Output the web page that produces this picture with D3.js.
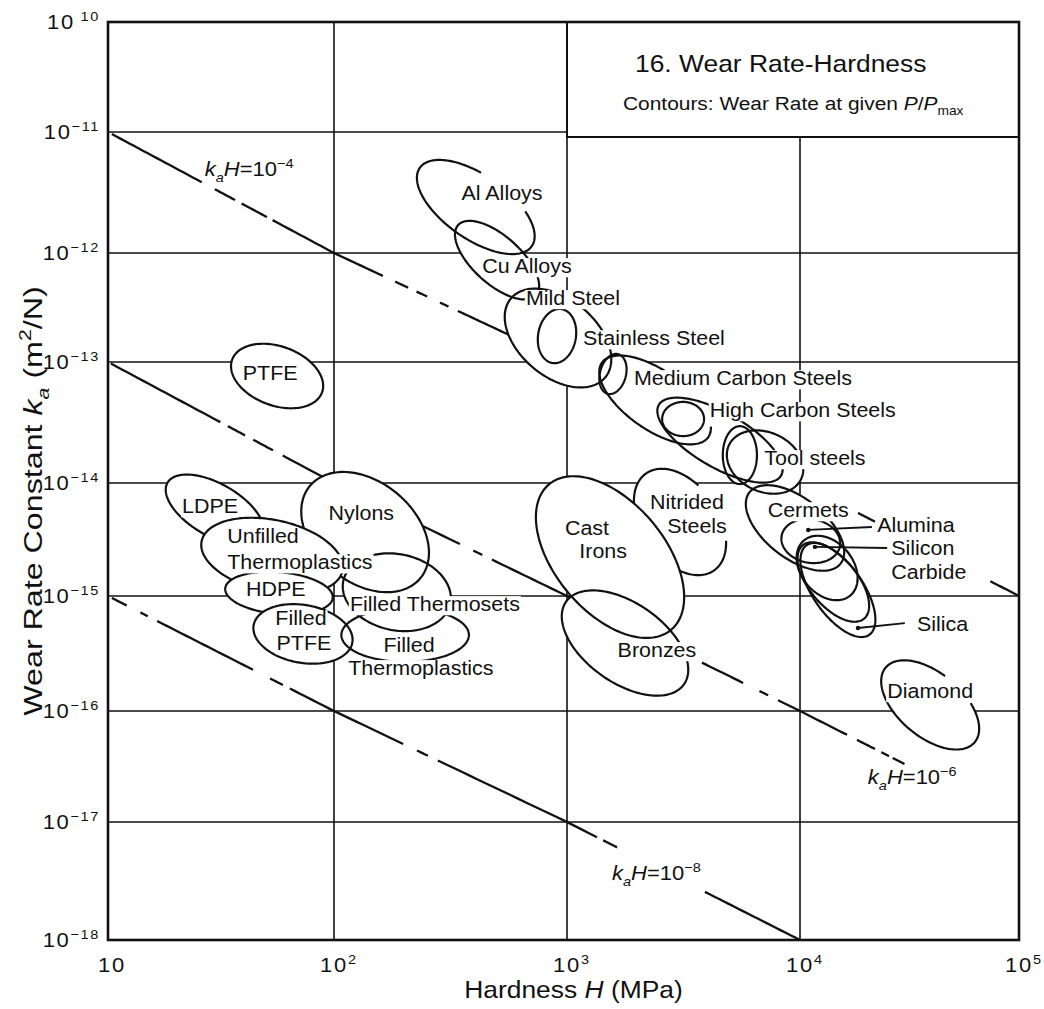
<!DOCTYPE html>
<html><head><meta charset="utf-8">
<script src="https://cdn.jsdelivr.net/npm/d3@7"></script>
<style>body{margin:0;background:#fff}svg{display:block}</style>
</head><body><svg id="c" width="1044" height="1009"></svg>
<script>
// ---------------- DATA ----------------
const xTickValues = [10, 100, 1e3, 1e4, 1e5];
const xTickExponents = ["", "2", "3", "4", "5"];
const yTickValues = [1e-10, 1e-11, 1e-12, 1e-13, 1e-14, 1e-15, 1e-16, 1e-17, 1e-18];
const yTickExponents = ["10", "−11", "−12", "−13", "−14", "−15", "−16", "−17", "−18"];

// material zones (centre hardness MPa, centre wear constant m2/N, semi-axes in decades)
const zoneNames = ["Al Alloys", "Cu Alloys", "Mild Steel", "Stainless Steel", "Medium Carbon core", "Medium Carbon Steels",
  "High Carbon core", "High Carbon Steels", "Tool steel core", "Tool steels", "Nitrided Steels", "Cast Irons", "Bronzes",
  "Cermets", "Alumina", "Silicon Carbide", "Silica", "Silica outer", "Diamond", "PTFE", "Nylons", "LDPE",
  "Unfilled Thermoplastics", "HDPE", "Filled PTFE", "Filled Thermosets", "Filled Thermoplastics"];
const zoneHardness = [406, 501, 915, 906, 1575, 2388, 3150, 4536, 5520, 7080, 3055, 1530, 1774,
  9520, 1.12e4, 1.33e4, 1.49e4, 1.42e4, 3.93e4, 56, 136, 29.7, 53.2, 57.1, 72.9, 186, 202];
const zoneWear = [2.4e-12, 8.6e-13, 1.66e-13, 1.73e-13, 7.96e-14, 4.86e-14, 3.38e-14, 2.26e-14, 1.7e-14, 1.49e-14, 4.52e-15, 2.21e-15, 3.9e-16,
  4.0e-15, 3.07e-15, 1.77e-15, 1.13e-15, 1.33e-15, 1.13e-16, 7.66e-14, 3.68e-15, 5.76e-15, 2.26e-15, 1.06e-15, 4.68e-16, 1.08e-15, 4.58e-16];
const zoneMajor = [0.30, 0.23, 0.27, 0.12, 0.09, 0.285, 0.092, 0.31, 0.127, 0.175, 0.26, 0.417, 0.316,
  0.254, 0.13, 0.158, 0.24, 0.21, 0.255, 0.21, 0.316, 0.24, 0.316, 0.237, 0.22, 0.24, 0.28];
const zoneMinor = [0.14, 0.105, 0.17, 0.083, 0.057, 0.13, 0.075, 0.12, 0.075, 0.13, 0.167, 0.241, 0.175,
  0.132, 0.096, 0.114, 0.11, 0.105, 0.14, 0.13, 0.22, 0.115, 0.158, 0.092, 0.127, 0.167, 0.118];
const zoneTilt = [35, 42, 40, 100, 105, 35, 0, 30, 90, 25, 55, 50, 35,
  38, 10, 50, 55, 50, 40, 20, 40, 30, 12, 5, 10, 12, 0];
const zoneCovers = [0, 0, 0, 0, 0, 0, 0, 0, 0, 0, 0, 1, 0, 0, 0, 0, 0, 0, 0, 0, 0, 0, 1, 1, 1, 0, 0];
const zoneArc = [[309, 617], null, null, null, null, [340, 622], null, null, null, null, [315, 612], null, null,
  null, null, null, null, null, [301, 624], null, null, null, null, null, null, null, null];

// zone labels
const labelTexts = ["Al Alloys", "Cu Alloys", "Mild Steel", "Stainless Steel", "Medium Carbon Steels", "High Carbon Steels",
  "Tool steels", "Cermets", "Alumina", "Silicon", "Carbide", "Silica", "Diamond", "Nitrided", "Steels", "Cast", "Irons",
  "Bronzes", "PTFE", "LDPE", "Unfilled", "Thermoplastics", "Nylons", "HDPE", "Filled", "PTFE", "Filled Thermosets",
  "Filled", "Thermoplastics"];
const labelHardness = [526, 673, 1061, 2361, 5690, 1.03e4, 1.17e4, 1.09e4, 2.25e4, 2.61e4, 2.61e4, 3.42e4, 3.93e4,
  3273, 3614, 1218, 1429, 2432, 52.2, 28.3, 33.7, 33.7, 131, 55.3, 71.4, 73.6, 271, 210, 236];
const labelWear = [2.74e-12, 6.56e-13, 3.34e-13, 1.43e-13, 6.45e-14, 3.51e-14, 1.41e-14, 5.0e-15, 3.68e-15, 2.31e-15,
  1.41e-15, 4.97e-16, 1.3e-16, 5.89e-15, 3.61e-15, 3.47e-15, 2.17e-15, 2.95e-16, 7.1e-14, 5.43e-15, 2.94e-15, 1.73e-15,
  4.71e-15, 1e-15, 5.6e-16, 3.39e-16, 7.41e-16, 3.26e-16, 2.06e-16];
const labelAlign = ["middle", "middle", "middle", "middle", "middle", "middle", "middle", "middle", "start", "start",
  "start", "start", "middle", "middle", "middle", "middle", "middle", "middle", "middle", "middle", "start", "start",
  "middle", "middle", "middle", "middle", "middle", "middle", "middle"];

// leader lines (from zone to label)
const leaderFromH = [1.09e4, 1.17e4, 1.84e4];
const leaderFromK = [3.84e-15, 2.72e-15, 5.27e-16];
const leaderToH = [2.13e4, 2.5e4, 3.01e4];
const leaderToK = [4.08e-15, 2.66e-15, 5.82e-16];

// contours k_a * H = const  (k in m2/N, H in MPa)
const contourProducts = [1e-10, 1e-12, 1e-14];
const contourExponents = ["−4", "−6", "−8"];
const contourVisibleH = [
  [[10.4, 26], [29.7, 36.5], [39, 50.5], [53.5, 162], [183, 208], [226, 251], [285, 310], [340, 600], [1.84e4, 2.2e4], [7.4e4, 1e5]],
  [[10.3, 31.4], [33.9, 40.4], [43.9, 53.7], [59.3, 347], [396, 433], [476, 1100], [3795, 5700], [6700, 7300], [8050, 1.64e4], [1.82e4, 2.2e4], [2.35e4, 2.55e4], [2.65e4, 3.0e4]],
  [[10.4, 12.1], [13.9, 15.0], [16.5, 43.8], [52.1, 59.4], [63.8, 198], [227, 253], [279, 1345], [1429, 1640], [3908, 1e4]]
];
const contourLabelH = [26.8, 2.04e4, 1560];
const contourLabelK = [4.33e-12, 2.2e-17, 3.23e-18];

// ---------------- LAYOUT ----------------
const svg = d3.select("#c");
const FONT = "'Liberation Sans', Arial, Helvetica, sans-serif";
const SX = 1.1;
const x = d3.scaleLog().domain(xTickValues).range([108, 334, 567, 800, 1019]);
const y = d3.scaleLog().domain(yTickValues).range([22, 132, 253, 362, 483, 596, 711, 822, 940]);
const decadePx = (x(1e5) - x(10)) / 4;
const X0 = x(10), X1 = x(1e5), Y0 = y(1e-10), Y1 = y(1e-18);

svg.append("rect").attr("width", 1044).attr("height", 1009).attr("fill", "#fff");

function richText(g, parts, size) {
  const t = g.append("text").attr("font-family", FONT).attr("font-size", size).attr("fill", "#111");
  let off = 0;
  parts.forEach(p => {
    const target = p.sup ? -0.42 * size : p.sub ? 0.28 * size : 0;
    const ts = t.append("tspan").text(p.t).attr("dy", target - off);
    off = target;
    if (p.sup || p.sub) ts.attr("font-size", size * 0.66);
    if (p.it) ts.attr("font-style", "italic");
  });
  return t;
}
function placed(px, py, sx, rot) {
  return svg.append("g").attr("transform", `translate(${px},${py})` + (rot ? ` rotate(${rot})` : "") + ` scale(${sx},1)`);
}

// grid
const grid = svg.append("g").attr("stroke", "#111").attr("stroke-width", 1.6);
yTickValues.slice(1, -1).forEach(v => grid.append("line").attr("x1", X0).attr("x2", X1).attr("y1", y(v)).attr("y2", y(v)));
xTickValues.slice(1, -1).forEach(v => grid.append("line").attr("y1", Y0).attr("y2", Y1).attr("x1", x(v)).attr("x2", x(v)));

// title box
svg.append("rect").attr("x", x(1e3)).attr("y", Y0).attr("width", X1 - x(1e3)).attr("height", y(1e-11) + 5 - Y0)
  .attr("fill", "#fff").attr("stroke", "#111").attr("stroke-width", 2);
placed(x(1e3) + 68, Y0 + 50, SX).call(g => richText(g, [{ t: "16. Wear Rate-Hardness" }], 24));
placed(x(1e3) + 56, Y0 + 88, SX).call(g => richText(g, [{ t: "Contours: Wear Rate at given " }, { t: "P", it: true }, { t: "/" }, { t: "P", it: true }, { t: "max", sub: true }], 19));

// contour lines
const lineGen = d3.line();
const contourG = svg.append("g").attr("stroke", "#111").attr("stroke-width", 2.3).attr("fill", "none").attr("stroke-linecap", "butt");
contourProducts.forEach((c, ci) => {
  contourVisibleH[ci].forEach(([h0, h1]) => {
    const pts = d3.range(0, 21).map(i => {
      const h = h0 * Math.pow(h1 / h0, i / 20);
      return [x(h), y(c / h)];
    });
    contourG.append("path").attr("d", lineGen(pts));
  });
});

// zones
function ellipsePts(i, t0, t1) {
  const cx = x(zoneHardness[i]), cy = y(zoneWear[i]);
  const A = zoneMajor[i] * decadePx, B = zoneMinor[i] * decadePx;
  const th = zoneTilt[i] * Math.PI / 180;
  const pts = [];
  for (let d = t0; d <= t1 + 1e-6; d += 2) {
    const t = d * Math.PI / 180, ca = Math.cos(t) * A, sb = Math.sin(t) * B;
    pts.push([cx + ca * Math.cos(th) - sb * Math.sin(th), cy + ca * Math.sin(th) + sb * Math.cos(th)]);
  }
  return pts;
}
const zoneG = svg.append("g");
zoneNames.forEach((n, i) => {
  zoneG.append("path").attr("d", lineGen(ellipsePts(i, 0, 358)) + "Z").attr("fill", "#fff").attr("stroke", "none");
});
zoneNames.forEach((n, i) => {
  const arc = zoneArc[i];
  if (zoneCovers[i]) {
    zoneG.append("path").attr("d", lineGen(ellipsePts(i, 0, 358)) + "Z").attr("fill", "#fff").attr("stroke", "#111").attr("stroke-width", 2.2);
  } else if (arc) {
    zoneG.append("path").attr("d", lineGen(ellipsePts(i, arc[0], arc[1]))).attr("fill", "none").attr("stroke", "#111").attr("stroke-width", 2.2);
  } else {
    zoneG.append("path").attr("d", lineGen(ellipsePts(i, 0, 358)) + "Z").attr("fill", "none").attr("stroke", "#111").attr("stroke-width", 2.2);
  }
});

// labels with white backing
const LFS = 19.5;
function backedLabel(px, py, parts, size, anchor) {
  const g = placed(px, py, SX);
  const t = richText(g, parts, size).attr("text-anchor", anchor);
  const bb = t.node().getBBox();
  g.insert("rect", "text").attr("x", bb.x - 1).attr("y", -0.76 * size).attr("width", bb.width + 2).attr("height", 0.98 * size).attr("fill", "#fff");
  return g;
}
labelTexts.forEach((s, i) => backedLabel(x(labelHardness[i]), y(labelWear[i]), [{ t: s }], LFS, labelAlign[i]));

contourProducts.forEach((c, ci) => backedLabel(x(contourLabelH[ci]), y(contourLabelK[ci]),
  [{ t: "k", it: true }, { t: "a", it: true, sub: true }, { t: "H", it: true }, { t: "=10" }, { t: contourExponents[ci], sup: true }], 20, "start"));

// leaders
leaderFromH.forEach((h, i) => {
  svg.append("line").attr("x1", x(h)).attr("y1", y(leaderFromK[i])).attr("x2", x(leaderToH[i])).attr("y2", y(leaderToK[i]))
    .attr("stroke", "#111").attr("stroke-width", 1.8);
  svg.append("circle").attr("cx", x(h)).attr("cy", y(leaderFromK[i])).attr("r", 2.2).attr("fill", "#111");
});

// frame
svg.append("rect").attr("x", X0).attr("y", Y0).attr("width", X1 - X0).attr("height", Y1 - Y0)
  .attr("fill", "none").attr("stroke", "#111").attr("stroke-width", 2.6);

// tick labels
const TFS = 20;
yTickValues.forEach((v, i) => {
  const g = placed(X0 - 8, y(v) + 7, 1.1);
  richText(g, [{ t: "10" }, { t: (i === 0 ? " " : "") + yTickExponents[i], sup: true }], TFS).attr("text-anchor", "end").attr("letter-spacing", 1.5);
});
xTickValues.forEach((v, i) => {
  const g = placed(x(v) + (i === 0 ? 4 : 0), Y1 + 32, 1.1);
  const t = richText(g, [{ t: "10" }], TFS).attr("text-anchor", "middle").attr("letter-spacing", 1.5);
  if (xTickExponents[i]) {
    const w = t.node().getBBox().width;
    richText(g, [{ t: xTickExponents[i] }], TFS * 0.66).attr("x", w / 2).attr("y", -8);
  }
});

// axis titles
placed((X0 + X1) / 2 + 10, Y1 + 58, SX).call(g => richText(g, [{ t: "Hardness " }, { t: "H", it: true }, { t: " (MPa)" }], 24).attr("text-anchor", "middle"));
svg.append("g").attr("transform", `translate(42,${(Y0 + Y1) / 2 + 20}) rotate(-90) scale(1.24,1)`)
  .call(g => richText(g, [{ t: "Wear Rate Constant " }, { t: "k", it: true }, { t: "a", it: true, sub: true }, { t: "  (m" }, { t: "2", sup: true }, { t: "/N)" }], 26).attr("text-anchor", "middle"));
</script></body></html>
